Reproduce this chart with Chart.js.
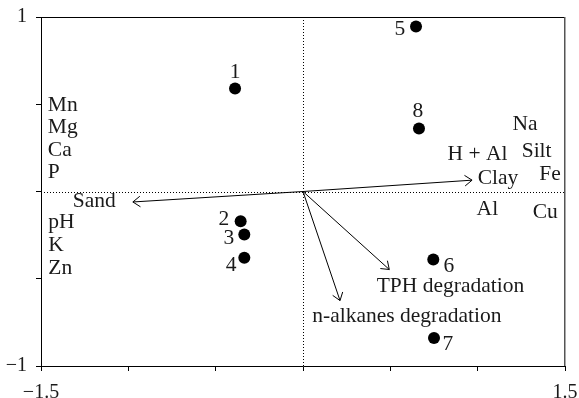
<!DOCTYPE html>
<html>
<head>
<meta charset="utf-8">
<script src="https://cdn.jsdelivr.net/npm/chart.js@4"></script>
<style>
html,body{margin:0;padding:0;background:#fff;}
canvas{display:block;}
</style>
</head>
<body>
<canvas id="c" width="579" height="398"></canvas>
<script>
// ---- data ----
const sampleIds = ['1','2','3','4','5','6','7','8'];
const sampleX = [-0.389, -0.357, -0.336, -0.336, 0.647, 0.746, 0.750, 0.664];
const sampleY = [0.590, -0.170, -0.246, -0.380, 0.946, -0.390, -0.840, 0.361];

// arrow vectors (from origin)
const arrowNames = ['Clay', 'Sand', 'TPH degradation', 'n-alkanes degradation'];
const arrowX = [0.968, -0.974, 0.494, 0.212];
const arrowY = [0.065, -0.060, -0.447, -0.625];

// variable text labels (left edge x, middle y, in data units)
const varLabels = ['Mn','Mg','Ca','P','pH','K','Zn','Sand','Na','H + Al','Silt','Clay','Fe','Al','Cu','TPH degradation','n-alkanes degradation'];
const varLabelX = [-1.461,-1.461,-1.461,-1.461,-1.458,-1.458,-1.458,-1.318,1.199,0.828,1.252,1.000,1.353,0.994,1.315,0.422,0.053];
const varLabelY = [0.493,0.368,0.235,0.111,-0.174,-0.309,-0.443,-0.056,0.384,0.212,0.231,0.075,0.097,-0.103,-0.122,-0.543,-0.715];

// sample number labels (center x, middle y, in data units)
const idLabelX = [-0.389, -0.453, -0.424, -0.412, 0.555, 0.835, 0.830, 0.658];
const idLabelY = [0.682, -0.160, -0.269, -0.424, 0.928, -0.430, -0.877, 0.458];

// axis settings
const xMin = -1.5, xMax = 1.5, xStep = 0.5;
const yMin = -1, yMax = 1, yStep = 0.5;
const xShownTicks = [-1.5, 1.5];
const yShownTicks = [-1, 1];

const FONT = "'Liberation Serif', 'DejaVu Serif', serif";
const fmt = v => (v < 0 ? '\u2212' + String(-v) : String(v));

const overlay = {
  id: 'overlay',
  beforeDatasetsDraw(chart) {
    const {ctx, chartArea: a, scales: {x, y}} = chart;
    const x0 = x.getPixelForValue(0), y0 = y.getPixelForValue(0);
    ctx.save();
    // dotted zero lines
    ctx.strokeStyle = '#000';
    ctx.lineWidth = 1;
    ctx.setLineDash([1, 2]);
    ctx.beginPath();
    ctx.moveTo(Math.round(x0) + 0.5, a.top);
    ctx.lineTo(Math.round(x0) + 0.5, a.bottom);
    ctx.moveTo(a.left, Math.round(y0) + 0.5);
    ctx.lineTo(a.right, Math.round(y0) + 0.5);
    ctx.stroke();
    ctx.setLineDash([]);
    // frame (top and right)
    ctx.beginPath();
    ctx.moveTo(a.left, a.top + 0.5);
    ctx.lineTo(a.right, a.top + 0.5);
    ctx.stroke();
    ctx.strokeStyle = '#555';
    ctx.lineWidth = 1.5;
    ctx.beginPath();
    ctx.moveTo(a.right - 0.25, a.top);
    ctx.lineTo(a.right - 0.25, a.bottom);
    ctx.stroke();
    // arrows
    ctx.strokeStyle = '#000';
    ctx.lineWidth = 1;
    for (let i = 0; i < arrowX.length; i++) {
      const px = x.getPixelForValue(arrowX[i]);
      const py = y.getPixelForValue(arrowY[i]);
      ctx.beginPath();
      ctx.moveTo(x0, y0);
      ctx.lineTo(px, py);
      const ang = Math.atan2(py - y0, px - x0);
      const L = 9, spread = Math.PI / 5;
      ctx.moveTo(px - L * Math.cos(ang - spread), py - L * Math.sin(ang - spread));
      ctx.lineTo(px, py);
      ctx.lineTo(px - L * Math.cos(ang + spread), py - L * Math.sin(ang + spread));
      ctx.stroke();
    }
    // text labels
    ctx.fillStyle = '#1a1a1a';
    ctx.font = '21.5px ' + FONT;
    ctx.textBaseline = 'middle';
    ctx.textAlign = 'left';
    for (let i = 0; i < varLabels.length; i++) {
      ctx.fillText(varLabels[i], x.getPixelForValue(varLabelX[i]), y.getPixelForValue(varLabelY[i]));
    }
    ctx.textAlign = 'center';
    for (let i = 0; i < sampleIds.length; i++) {
      ctx.fillText(sampleIds[i], x.getPixelForValue(idLabelX[i]), y.getPixelForValue(idLabelY[i]));
    }
    ctx.restore();
  }
};

const zeroPad = s => { s.paddingLeft = 0; s.paddingRight = 0; s.paddingTop = 0; s.paddingBottom = 0; };

new Chart(document.getElementById('c'), {
  type: 'scatter',
  data: {
    datasets: [{
      data: sampleX.map((v, i) => ({x: v, y: sampleY[i]})),
      backgroundColor: '#000',
      borderWidth: 0,
      pointRadius: 6,
      pointHoverRadius: 6
    }]
  },
  options: {
    responsive: false,
    devicePixelRatio: 1,
    animation: false,
    layout: {padding: {top: 17, right: 14, left: 0, bottom: 0}},
    plugins: {legend: {display: false}, tooltip: {enabled: false}},
    scales: {
      x: {
        type: 'linear', min: xMin, max: xMax,
        afterFit: s => { s.height = 32; zeroPad(s); },
        afterBuildTicks: s => { s.ticks = []; for (let v = xMin; v <= xMax + 1e-9; v += xStep) s.ticks.push({value: +v.toFixed(2)}); },
        ticks: {
          stepSize: xStep, autoSkip: false, maxRotation: 0, padding: 10,
          color: '#1a1a1a', font: {family: FONT, size: 20},
          callback: v => xShownTicks.includes(+v.toFixed(2)) ? fmt(+v.toFixed(2)) : ''
        },
        grid: {drawOnChartArea: false, drawTicks: true, tickLength: 5, tickColor: '#000'},
        border: {color: '#000', width: 1}
      },
      y: {
        type: 'linear', min: yMin, max: yMax,
        afterFit: s => { s.width = 41; zeroPad(s); },
        afterBuildTicks: s => { s.ticks = []; for (let v = yMin; v <= yMax + 1e-9; v += yStep) s.ticks.push({value: +v.toFixed(2)}); },
        ticks: {
          stepSize: yStep, autoSkip: false, padding: 9,
          color: '#1a1a1a', font: {family: FONT, size: 20},
          callback: v => yShownTicks.includes(+v.toFixed(2)) ? fmt(+v.toFixed(2)) : ''
        },
        grid: {drawOnChartArea: false, drawTicks: true, tickLength: 5, tickColor: '#000'},
        border: {color: '#000', width: 1}
      }
    }
  },
  plugins: [overlay]
});
</script>
</body>
</html>
